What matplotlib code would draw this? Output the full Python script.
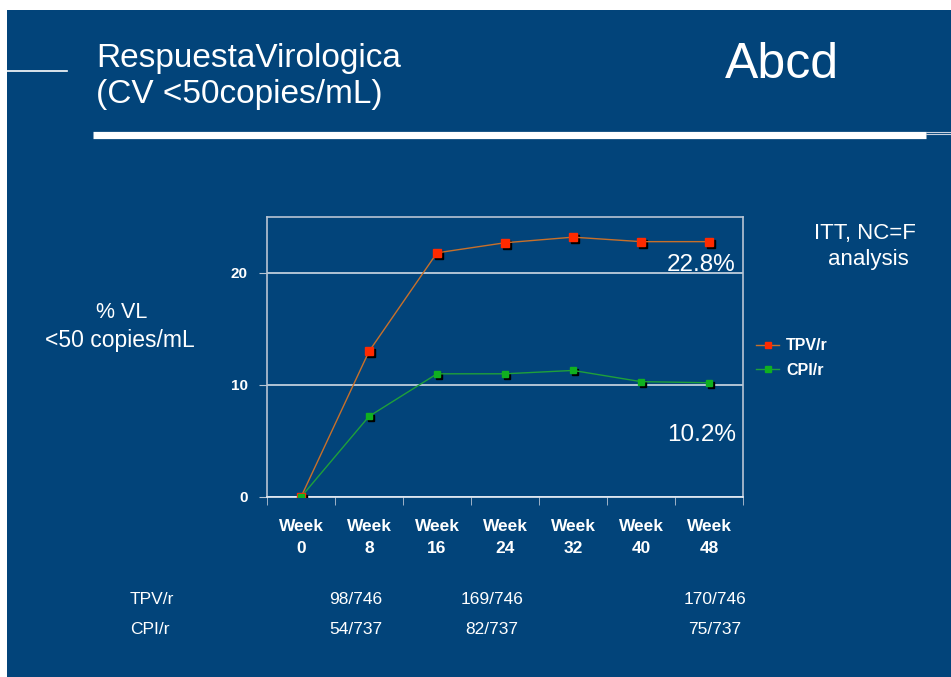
import numpy as np
import matplotlib
matplotlib.use('Agg')
import matplotlib.pyplot as plt
from matplotlib.transforms import offset_copy
from matplotlib.lines import Line2D

weeks = ['Week\n0', 'Week\n8', 'Week\n16', 'Week\n24', 'Week\n32', 'Week\n40', 'Week\n48']
tpv = [0, 13.0, 21.8, 22.7, 23.2, 22.8, 22.8]
cpi = [0, 7.2, 11.0, 11.0, 11.3, 10.3, 10.2]
row_names = ['TPV/r', 'CPI/r']
tpv_counts = ['98/746', '169/746', '170/746']
cpi_counts = ['54/737', '82/737', '75/737']

blue = '#02447a'
plt.rcParams['font.family'] = ['Liberation Sans', 'DejaVu Sans']

fig = plt.figure(figsize=(9.51, 6.77), dpi=100)
fig.patch.set_facecolor('white')
# fondo azul de la diapositiva
bg = fig.add_axes([7 / 951, 0, 1 - 7 / 951, 1 - 10 / 677])
bg.set_facecolor(blue)
bg.set_xticks([]); bg.set_yticks([])
for s in bg.spines.values():
    s.set_visible(False)

# lineas de la cabecera
fig.add_artist(Line2D([7 / 951, 67 / 951], [1 - 71 / 677] * 2, color='white', lw=1.2))
fig.add_artist(Line2D([93 / 951, 926 / 951], [1 - 134.5 / 677] * 2, color='white', lw=5.2, solid_capstyle='butt'))
fig.add_artist(Line2D([926 / 951, 1], [1 - 131.5 / 677] * 2, color='#c8d2e0', lw=0.8))
fig.add_artist(Line2D([926 / 951, 1], [1 - 133.5 / 677] * 2, color='#c8d2e0', lw=0.8))

fig.text(96 / 951, 1 - 58 / 677, 'RespuestaVirologica', color='white', fontsize=24, va='center')
fig.text(96 / 951, 1 - 94 / 677, '(CV <50copies/mL)', color='white', fontsize=24, va='center')
fig.text(725 / 951, 1 - 65 / 677, 'Abcd', color='white', fontsize=36, va='center')

ax = fig.add_axes([267 / 951, 1 - 497 / 677, 476 / 951, 280 / 677])
ax.set_facecolor(blue)
x = np.arange(len(weeks))
ax.set_xlim(-0.5, 6.5)
ax.set_ylim(0, 25)
ax.set_yticks([0, 10, 20])
ax.set_yticklabels(['0', '10', '20'], color='white', fontsize=11, fontweight='bold')
ax.set_xticks(x)
ax.set_xticklabels(weeks, color='white', fontsize=12.5, fontweight='bold', linespacing=1.55)
ax.set_xticks(np.arange(-0.5, 7, 1), minor=True)
ax.tick_params(axis='x', which='major', length=0, pad=16)
ax.tick_params(axis='x', which='minor', length=6, color='#b8c4d4', direction='out')
ax.tick_params(axis='y', length=6, color='#b8c4d4', direction='out', pad=8)
for s in ax.spines.values():
    s.set_color('#b8c4d4')
    s.set_linewidth(1.2)
ax.spines['bottom'].set_color('#e8eef6')
ax.grid(axis='y', color='#e0e6ee', lw=1.1)
ax.set_axisbelow(True)

shadow = offset_copy(ax.transData, fig=fig, x=2, y=-2, units='dots')
ax.plot(x, tpv, 's', color='black', ms=5.5, transform=shadow, zorder=3)
ax.plot(x, cpi, 's', color='black', ms=4, transform=shadow, zorder=3)
ax.plot(x, tpv, '-', color='#c8702a', lw=1, zorder=4)
ax.plot(x, cpi, '-', color='#1fa03a', lw=1, zorder=4)
ax.plot(x, tpv, 's', color='#ff2a00', ms=5.5, mec='#ff2a00', zorder=5)
ax.plot(x, cpi, 's', color='#10b020', ms=4, mec='#10b020', zorder=5)

ax.text(0.985, 0.83, '22.8%', transform=ax.transAxes, color='white', fontsize=17.5, ha='right', va='center')
ax.text(0.985, 0.22, '10.2%', transform=ax.transAxes, color='white', fontsize=17.5, ha='right', va='center')

# leyenda
h1 = Line2D([], [], color='#c8702a', lw=1, marker='s', ms=5, mfc='#ff2a00', mec='#ff2a00')
h2 = Line2D([], [], color='#1fa03a', lw=1, marker='s', ms=4, mfc='#10b020', mec='#10b020')
leg = fig.legend([h1, h2], ['TPV/r', 'CPI/r'], loc='center left',
                 bbox_to_anchor=(742 / 951, 1 - 358 / 677), frameon=False,
                 handlelength=1.4, handletextpad=0.45, labelspacing=0.6,
                 prop={'weight': 'bold', 'size': 11.5})
for t in leg.get_texts():
    t.set_color('white')

fig.text(122 / 951, 1 - 313 / 677, '% VL', color='white', fontsize=15.5, ha='center', va='center')
fig.text(120 / 951, 1 - 340 / 677, '<50 copies/mL', color='white', fontsize=16.5, ha='center', va='center')
fig.text(865 / 951, 1 - 233 / 677, 'ITT, NC=F', color='white', fontsize=16, ha='center', va='center')
fig.text(868 / 951, 1 - 259 / 677, 'analysis', color='white', fontsize=16, ha='center', va='center')

# tabla de respondedores
col_x = [356, 492, 715]
for row, (name, vals) in enumerate(zip(row_names, [tpv_counts, cpi_counts])):
    y = 1 - (599 + 30 * row) / 677
    fig.text(130 / 951, y, name, color='white', fontsize=12.5, va='center')
    for cx, v in zip(col_x, vals):
        fig.text(cx / 951, y, v, color='white', fontsize=12.5, ha='center', va='center')

fig.savefig('out.png', dpi=100, facecolor=fig.get_facecolor())
